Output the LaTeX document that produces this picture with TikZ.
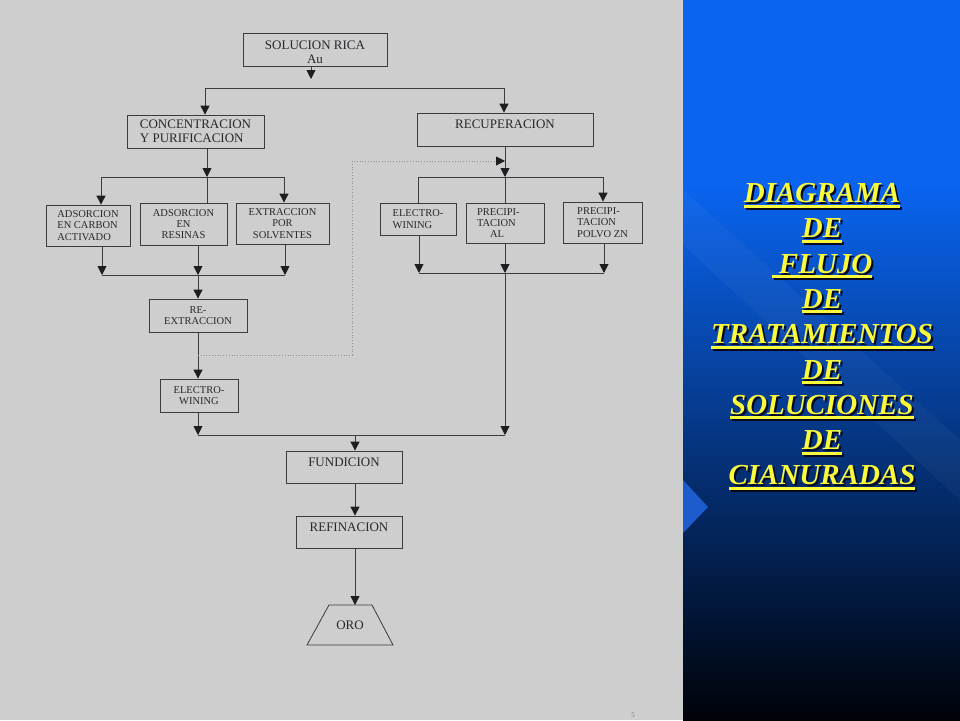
\documentclass[tikz,border=0pt]{standalone}
\usepackage{fontspec}
\setmainfont{Liberation Serif}
\usetikzlibrary{arrows.meta}
\definecolor{papel}{RGB}{206,206,207}
\definecolor{trazo}{RGB}{60,60,64}
\definecolor{punta}{RGB}{30,30,34}
\definecolor{tinta}{RGB}{40,40,44}
\definecolor{azulsup}{RGB}{10,100,240}
\definecolor{azulmed}{RGB}{3,64,168}
\definecolor{azulinf}{RGB}{0,2,8}
\definecolor{azulpico}{RGB}{28,92,205}
\definecolor{amarillo}{RGB}{250,250,60}
\definecolor{sombra}{RGB}{8,8,30}
\newcommand{\ConSombra}[1]{\setbox0=\hbox{#1}%
  \rlap{\kern2pt\raisebox{-2pt}{\color{sombra}\rlap{\rule[-5pt]{\wd0}{3pt}}\copy0}}%
  \rlap{\rule[-5pt]{\wd0}{3pt}}\box0}
\tikzset{
  Flecha/.style = {
    draw=trazo, line width=0.9pt,
    -{Triangle[length = 9pt, width = 9pt, color=punta]},
  },
  Linea/.style = {draw=trazo, line width=0.9pt},
  Punteada/.style = {
    draw=trazo!55, line width=0.8pt, dotted,
    -{Triangle[length = 9pt, width = 9pt, color=punta]},
  },
  Caja/.style = {draw=trazo, line width=0.8pt, inner sep=2pt, text=tinta,
    font=\fontsize{13}{14}\selectfont},
  CajaChica/.style = {Caja, font=\fontsize{10.5}{11.4}\selectfont},
  Titulo/.style = {anchor=base, text=amarillo,
    font=\fontsize{29}{35}\selectfont\bfseries\itshape},
}
\begin{document}
\begin{tikzpicture}[x=1pt, y=-1pt]
  \useasboundingbox (0,0) rectangle (960,720);
  \fill[papel] (0,0) rectangle (683,720);
  \fill[azulsup] (683,0) rectangle (960,186);
  \shade[top color=azulsup, middle color=azulmed, bottom color=azulinf]
    (683,185) rectangle (960,720);
  \fill[white, opacity=0.035] (683,190) -- (683,245) -- (960,500) -- (960,440) -- cycle;
  \fill[azulpico] (683,480) -- (708,507) -- (683,533) -- cycle;

  \node[Caja, minimum width=144pt, minimum height=33pt, align=center] (sol) at (315,49.5) {\rule{0pt}{15pt}SOLUCION RICA\\Au};
  \node[Caja, minimum width=137pt, minimum height=33pt, align=left] (conc) at (195.5,131.5) {CONCENTRACION\\Y PURIFICACION};
  \node[Caja, minimum width=176pt, minimum height=33pt, text depth=10pt] (recu) at (505,129.5) {RECUPERACION};
  \node[CajaChica, minimum width=84pt, minimum height=41pt, align=left] (carb) at (88,225.5) {ADSORCION\\EN CARBON\\ACTIVADO};
  \node[CajaChica, minimum width=87pt, minimum height=42pt, align=center] (resi) at (183.5,224) {ADSORCION\\EN\\RESINAS};
  \node[CajaChica, minimum width=93pt, minimum height=41pt, align=center] (extr) at (282.5,223.5) {EXTRACCION\\POR\\SOLVENTES};
  \node[CajaChica, minimum width=76pt, minimum height=32pt, align=left] (ew1) at (418,219) {ELECTRO-\\WINING};
  \node[CajaChica, minimum width=78pt, minimum height=40pt, text width=56pt, align=left] (pal) at (505,223) {PRECIPI-\\TACION\\\hphantom{TA}AL};
  \node[CajaChica, minimum width=79pt, minimum height=41pt, align=left] (pzn) at (602.5,222.5) {PRECIPI-\\TACION\\POLVO ZN};
  \node[CajaChica, minimum width=98pt, minimum height=33pt, align=center] (rex) at (198,315.5) {RE-\\EXTRACCION};
  \node[CajaChica, minimum width=78pt, minimum height=33pt, align=center] (ew2) at (199,395.5) {ELECTRO-\\WINING};
  \node[Caja, minimum width=116pt, minimum height=32pt, text depth=10pt] (fund) at (344,467) {FUNDICION};
  \node[Caja, minimum width=106pt, minimum height=32pt, text depth=10pt] (refi) at (349,532) {REFINACION};
  \node[Caja, draw=none, minimum width=86pt, minimum height=40pt, outer sep=0pt] (oro) at (350,625) {ORO};
  \draw[Linea, line width=0.8pt] (oro.south west) -- ([xshift=22pt]oro.north west)
    -- ([xshift=-21pt]oro.north east) -- (oro.south east) -- cycle;
  \node[text=tinta!60, font=\fontsize{7}{7}\selectfont] (pag) at (633,715) {5};

  \coordinate (j0) at (311,79);
  \coordinate (bl) at (205,88);
  \coordinate (br) at (504,88);
  \coordinate (c1) at (207,177);
  \coordinate (cl) at (101,177);
  \coordinate (cr) at (284,177);
  \coordinate (dl) at (102,275);
  \coordinate (dm) at (198,275);
  \coordinate (dr) at (285,275);
  \coordinate (dt) at (198,355);
  \coordinate (k2) at (352,161);
  \coordinate (rj) at (505,161);
  \coordinate (rb) at (505,177);
  \coordinate (rl) at (418,177);
  \coordinate (rr) at (603,177);
  \coordinate (sl) at (419,273);
  \coordinate (sm) at (505,273);
  \coordinate (sr) at (604,273);
  \coordinate (fl) at (198,435);
  \coordinate (fm) at (355,435);
  \coordinate (fr) at (505,435);

  \draw[Flecha] (sol.south -| j0) -- (j0);
  \draw[Linea] (bl) -- (br);
  \draw[Flecha] (bl) -- (bl |- conc.north);
  \draw[Flecha] (br) -- (br |- recu.north);
  \draw[Flecha] (conc.south -| c1) -- (c1);
  \draw[Linea] (cl) -- (cr);
  \draw[Flecha] (cl) -- (cl |- carb.north);
  \draw[Linea] (c1) -- (c1 |- resi.north);
  \draw[Flecha] (cr) -- (cr |- extr.north);
  \draw[Flecha] (carb.south -| dl) -- (dl);
  \draw[Flecha] (resi.south -| dm) -- (dm);
  \draw[Flecha] (extr.south -| dr) -- (dr);
  \draw[Linea] (dl) -- (dr);
  \draw[Flecha] (dm) -- (dm |- rex.north);
  \draw[Flecha] (rex.south -| dm) -- (dm |- ew2.north);
  \draw[Punteada] (dt) -| (k2) -- (rj);
  \draw[Flecha] (recu.south -| rb) -- (rb);
  \draw[Linea] (rl) -- (rr);
  \draw[Linea] (rl) -- (rl |- ew1.north);
  \draw[Linea] (rb) -- (rb |- pal.north);
  \draw[Flecha] (rr) -- (rr |- pzn.north);
  \draw[Flecha] (ew1.south -| sl) -- (sl);
  \draw[Flecha] (pal.south -| sm) -- (sm);
  \draw[Flecha] (pzn.south -| sr) -- (sr);
  \draw[Linea] (sl) -- (sr);
  \draw[Flecha] (sm) -- (fr);
  \draw[Flecha] (ew2.south -| fl) -- (fl);
  \draw[Linea] (fl) -- (fr);
  \draw[Flecha] (fm) -- (fm |- fund.north);
  \draw[Flecha] (fund.south -| fm) -- (fm |- refi.north);
  \draw[Flecha] (refi.south -| fm) -- (fm |- oro.north);

  \foreach \palabra [count=\i from 0] in {DIAGRAMA, DE, {\ FLUJO}, DE, TRATAMIENTOS, DE, SOLUCIONES, DE, CIANURADAS}{
    \node[Titulo] (t\i) at ({822}, {202.5+35.3*\i}) {\ConSombra{\palabra}};
  }
\end{tikzpicture}
\end{document}
